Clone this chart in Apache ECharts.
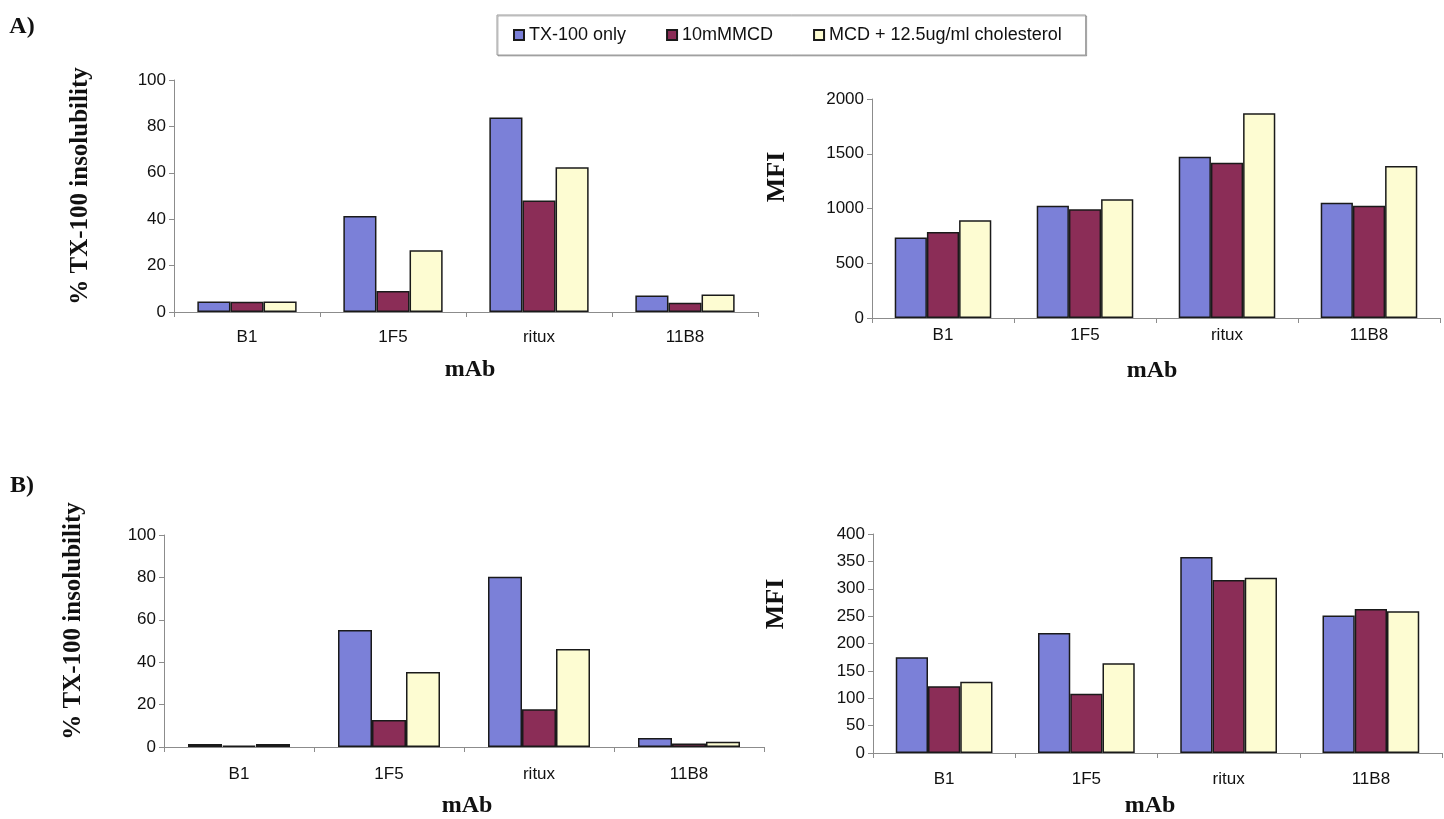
<!DOCTYPE html>
<html>
<head>
<meta charset="utf-8">
<title>mAb insolubility / MFI</title>
<script src="https://cdn.jsdelivr.net/npm/echarts@6/dist/echarts.min.js"></script>
<style>
  html, body { margin: 0; padding: 0; background: #fff; }
  #chart { width: 1444px; height: 819px; }
</style>
</head>
<body>
<div id="chart"></div>
<script>
const categories = ['B1', '1F5', 'ritux', '11B8']
const seriesNames = ['TX-100 only', '10mMMCD', 'MCD + 12.5ug/ml cholesterol']

// A) % insolubility
const aInsolTx = [4.5, 41.4, 83.8, 7.1]
const aInsolMcd = [4.4, 9.1, 48.1, 4.0]
const aInsolChol = [4.5, 26.6, 62.4, 7.5]
// A) MFI
const aMfiTx = [735, 1024, 1472, 1052]
const aMfiMcd = [786, 994, 1417, 1024]
const aMfiChol = [893, 1085, 1869, 1387]
// B) % insolubility
const bInsolTx = [1.4, 55.2, 80.3, 4.2]
const bInsolMcd = [0.6, 12.7, 17.8, 1.7]
const bInsolChol = [1.4, 35.4, 46.2, 2.5]
// B) MFI
const bMfiTx = [175, 219, 358, 251]
const bMfiMcd = [122, 108, 316, 263]
const bMfiChol = [130, 164, 320, 259]

const colors = ['#7b80d8', '#8b2d57', '#fdfcd2']
const sans = '"Liberation Sans", Arial, sans-serif'
const serif = '"Liberation Serif", "Times New Roman", serif'

const panels = [
  { grid: { left: 174, top: 80, width: 584, height: 232 }, max: 100, interval: 20, labelMargin: 17,
    data: [aInsolTx, aInsolMcd, aInsolChol] },
  { grid: { left: 872, top: 99, width: 568, height: 219 }, max: 2000, interval: 500, labelMargin: 9,
    data: [aMfiTx, aMfiMcd, aMfiChol] },
  { grid: { left: 164, top: 535, width: 600, height: 212 }, max: 100, interval: 20, labelMargin: 19,
    data: [bInsolTx, bInsolMcd, bInsolChol] },
  { grid: { left: 873, top: 534, width: 569, height: 219 }, max: 400, interval: 50, labelMargin: 18,
    data: [bMfiTx, bMfiMcd, bMfiChol] }
]

const axisLine = { show: true, lineStyle: { color: '#8c8c8c', width: 1 } }

// axis titles and panel letters
const title = (x, y, text, size, rotate) => ({
  type: 'text', x: x, y: y, rotation: rotate ? Math.PI / 2 : 0,
  style: { text: text, font: 'bold ' + size + 'px ' + serif, fill: '#111', align: 'center', verticalAlign: 'middle' }
})

const option = {
  backgroundColor: '#fff',
  animation: false,
  legend: {
    data: seriesNames,
    left: 497,
    top: 15,
    padding: [11, 24, 11, 16],
    itemWidth: 10,
    itemHeight: 10,
    itemGap: 40,
    icon: 'rect',
    borderColor: '#9a9a9a',
    borderWidth: 1,
    backgroundColor: '#fff',
    shadowColor: 'rgba(0,0,0,0.25)',
    shadowOffsetX: 1,
    shadowOffsetY: 1,
    textStyle: { fontFamily: sans, fontSize: 18, color: '#111' }
  },
  grid: panels.map(p => Object.assign({ containLabel: false }, p.grid)),
  xAxis: panels.map((p, i) => ({
    type: 'category',
    gridIndex: i,
    data: categories,
    axisLine: axisLine,
    axisTick: { show: true, length: 5, lineStyle: { color: '#8c8c8c' } },
    axisLabel: { fontFamily: sans, fontSize: 17, color: '#111', margin: p.labelMargin },
    splitLine: { show: false }
  })),
  yAxis: panels.map((p, i) => ({
    type: 'value',
    gridIndex: i,
    min: 0,
    max: p.max,
    interval: p.interval,
    axisLine: axisLine,
    axisTick: { show: true, length: 5, lineStyle: { color: '#8c8c8c' } },
    axisLabel: { fontFamily: sans, fontSize: 17, color: '#111', margin: 8, formatter: v => String(v) },
    splitLine: { show: false }
  })),
  series: [],
  graphic: [
    title(22, 27, 'A)', 24),
    title(22, 486, 'B)', 24),
    title(81, 186, '% TX-100 insolubility', 25, true),
    title(74, 621, '% TX-100 insolubility', 25, true),
    title(777, 177, 'MFI', 26, true),
    title(776, 604, 'MFI', 26, true),
    title(470, 370, 'mAb', 24),
    title(1152, 371, 'mAb', 24),
    title(467, 806, 'mAb', 24),
    title(1150, 806, 'mAb', 24)
  ]
}

panels.forEach((p, i) => {
  p.data.forEach((values, s) => {
    option.series.push({
      type: 'bar',
      name: seriesNames[s],
      xAxisIndex: i,
      yAxisIndex: i,
      data: values,
      barGap: '0%',
      barCategoryGap: '32%',
      itemStyle: { color: colors[s], borderColor: '#1a1a1a', borderWidth: 1.5 }
    })
  })
})

const chart = echarts.init(document.getElementById('chart'))
chart.setOption(option)
window.addEventListener('resize', () => chart.resize())
</script>
</body>
</html>
